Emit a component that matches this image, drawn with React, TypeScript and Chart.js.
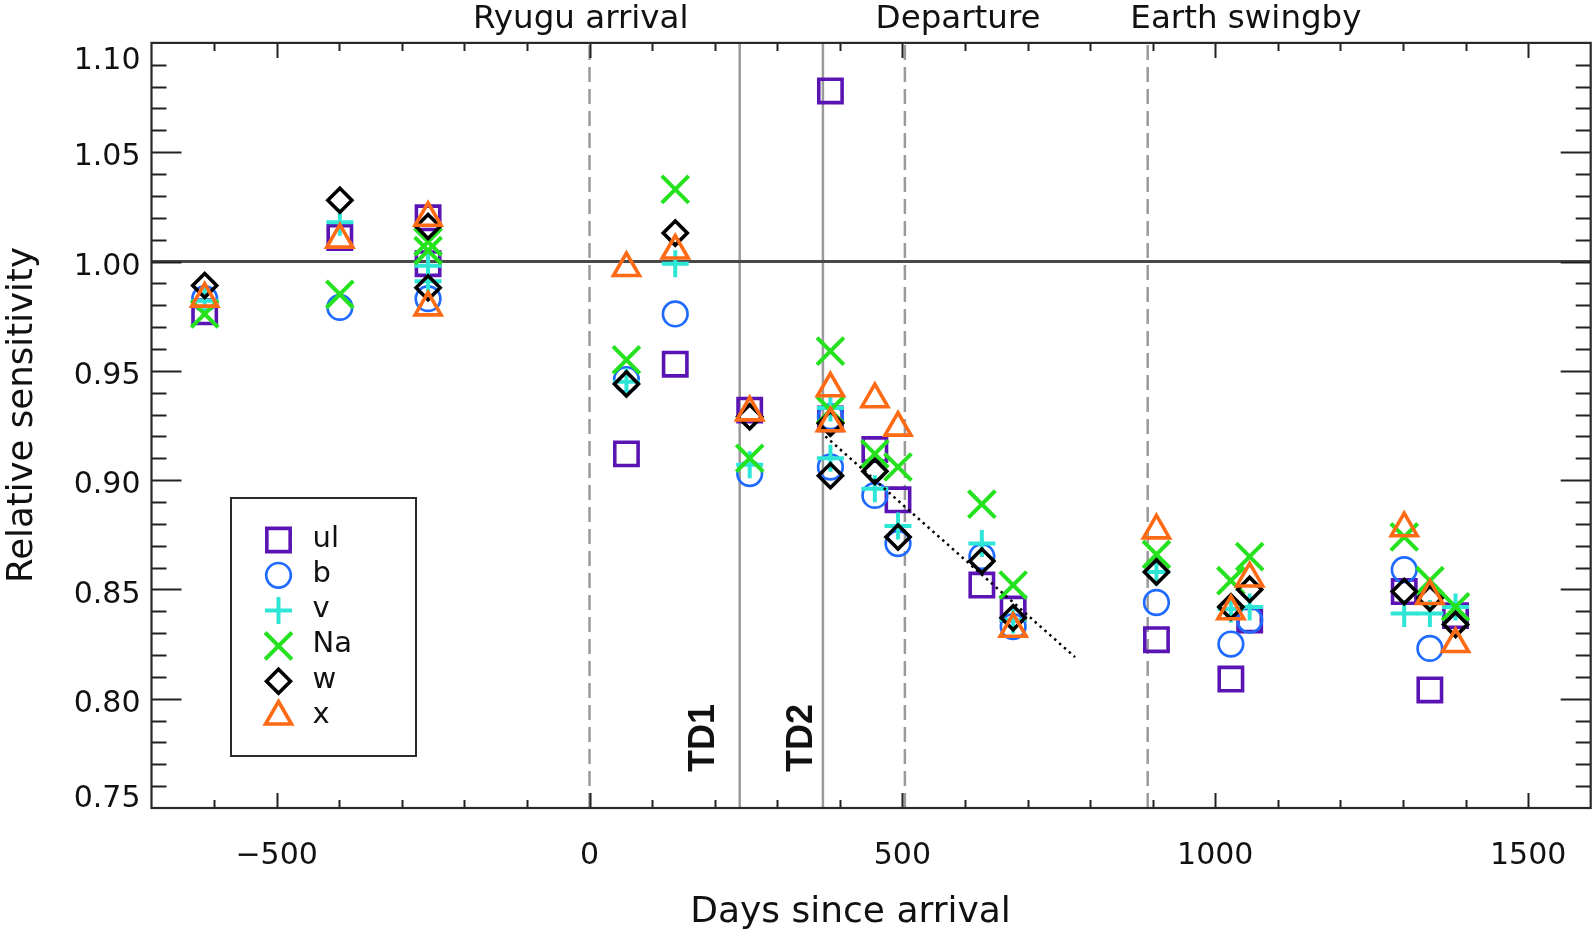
import React, { useEffect, useRef } from 'react';
import { Chart, registerables } from 'chart.js';
import { drawPoint } from 'chart.js/helpers';

Chart.register(...registerables);

// ---------- data ----------
const seriesNames = ['ul', 'b', 'v', 'Na', 'w', 'x'];
const obsDays = [-615, -399, -258, -258, 59, 137, 256, 385, 385, 456, 493, 627, 677, 906, 1025, 1055, 1302, 1343, 1384];
const ulValues = [0.977, 1.011, 1.02, 0.999, 0.912, 0.953, 0.932, 1.078, 0.928, 0.914, 0.891, 0.852, 0.841, 0.827, 0.809, 0.836, 0.849, 0.804, 0.838];
const bValues = [0.983, 0.979, null, 0.983, 0.946, 0.976, 0.903, 0.929, 0.906, 0.893, 0.871, 0.865, 0.833, 0.844, 0.825, 0.836, 0.859, 0.823, null];
const vValues = [0.982, 1.018, 0.998, 0.991, 0.945, 0.999, 0.907, 0.933, 0.91, 0.896, 0.879, 0.871, 0.836, 0.858, 0.841, 0.842, 0.839, 0.839, 0.842];
const naValues = [0.976, 0.985, 1.009, 1.005, 0.955, 1.033, 0.91, 0.959, 0.932, 0.912, 0.906, 0.889, 0.852, 0.866, 0.854, 0.865, 0.874, 0.854, 0.842];
const wValues = [0.989, 1.028, 1.016, 0.988, 0.944, 1.013, 0.929, 0.926, 0.902, 0.904, 0.874, 0.863, 0.837, 0.858, 0.842, 0.85, 0.849, 0.846, 0.834];
const xValues = [0.983, 1.01, 1.02, 0.979, 0.997, 1.005, 0.931, 0.942, 0.926, 0.937, 0.924, null, 0.832, 0.877, 0.84, 0.855, 0.878, 0.847, 0.825];

const trendDays = [377, 776];
const trendValues = [0.92, 0.819];

const unityDays = [-700, 1600];
const unityValues = [1.0, 1.0];

const eventDays = [0, 504, 892];
const eventLabels = ['Ryugu arrival', 'Departure', 'Earth swingby'];
const eventLabelDays = [-14, 589, 1049];

const touchdownDays = [240, 373];
const touchdownLabels = ['TD1', 'TD2'];
const touchdownLabelDays = [183, 340];
const touchdownLabelValue = 0.782;

const xRange = [-700, 1600];
const yRange = [0.75, 1.1];
const xTickValues = [-500, 0, 500, 1000, 1500];
const xTickLabels = ['\u2212500', '0', '500', '1000', '1500'];
const yTickValues = [0.75, 0.8, 0.85, 0.9, 0.95, 1.0, 1.05, 1.1];
const yTickLabels = ['0.75', '0.80', '0.85', '0.90', '0.95', '1.00', '1.05', '1.10'];

const xTitle = 'Days since arrival';
const yTitle = 'Relative sensitivity';

// ---------- styles ----------
const FONT = '"DejaVu Sans", "Liberation Sans", Arial, sans-serif';
const seriesStyles = [
  { style: 'rect', color: '#5a14b4', radius: 16.5, width: 3.6 },
  { style: 'circle', color: '#1f6bff', radius: 12.3, width: 2.7 },
  { style: 'cross', color: '#2ee6d6', radius: 13.5, width: 4 },
  { style: 'crossRot', color: '#25e21f', radius: 19, width: 4 },
  { style: 'rectRot', color: '#000000', radius: 12, width: 3.6 },
  { style: 'triangle', color: '#ff6a14', radius: 15, width: 3.6 },
];
const seriesValues = [ulValues, bValues, vValues, naValues, wValues, xValues];

function pts(days: number[], vals: (number | null)[]) {
  const out: { x: number; y: number }[] = [];
  days.forEach((d, i) => {
    const v = vals[i];
    if (v !== null && v !== undefined) out.push({ x: d, y: v });
  });
  return out;
}

const overlay = {
  id: 'overlay',
  afterDraw(chart: any) {
    const { ctx, chartArea: a, scales } = chart;
    const xs = scales.x;
    const ys = scales.y;
    ctx.save();
    // ticks (inward)
    ctx.strokeStyle = '#222';
    ctx.lineWidth = 2;
    ctx.beginPath();
    for (let d = xRange[0] + 100; d < xRange[1]; d += 100) {
      const px = Math.round(xs.getPixelForValue(d)) + 0.5;
      const len = d % 500 === 0 ? 15 : 8;
      ctx.moveTo(px, a.bottom);
      ctx.lineTo(px, a.bottom - len);
      ctx.moveTo(px, a.top);
      ctx.lineTo(px, a.top + len);
    }
    for (let k = 76; k < 110; k++) {
      const py = Math.round(ys.getPixelForValue(k / 100)) + 0.5;
      const len = k % 5 === 0 ? 30 : 15;
      ctx.moveTo(a.left, py);
      ctx.lineTo(a.left + len, py);
      ctx.moveTo(a.right, py);
      ctx.lineTo(a.right - len, py);
    }
    ctx.stroke();
    // frame
    ctx.strokeStyle = '#2a2a2a';
    ctx.lineWidth = 2.2;
    ctx.strokeRect(a.left, a.top, a.right - a.left, a.bottom - a.top);

    // legend
    const lx = 231, ly = 498, lw = 185, lh = 258;
    ctx.fillStyle = '#ffffff';
    ctx.fillRect(lx, ly, lw, lh);
    ctx.strokeStyle = '#2a2a2a';
    ctx.lineWidth = 2;
    ctx.strokeRect(lx, ly, lw, lh);
    seriesNames.forEach((name, i) => {
      const st = seriesStyles[i];
      const cy = 540 + i * 35.3;
      ctx.save();
      ctx.strokeStyle = st.color;
      ctx.fillStyle = 'rgba(0,0,0,0)';
      ctx.lineWidth = st.width;
      drawPoint(ctx, { pointStyle: st.style, radius: st.radius, borderWidth: st.width, rotation: 0 } as any, 278.5, cy);
      ctx.restore();
      ctx.fillStyle = '#111';
      ctx.font = `29px ${FONT}`;
      ctx.textAlign = 'left';
      ctx.textBaseline = 'middle';
      ctx.fillText(name, 312.5, cy - 1);
    });

    // event labels above plot
    ctx.fillStyle = '#111';
    ctx.font = `32.5px ${FONT}`;
    ctx.textAlign = 'center';
    ctx.textBaseline = 'alphabetic';
    eventLabels.forEach((t, i) => {
      ctx.fillText(t, xs.getPixelForValue(eventLabelDays[i]), 28.3);
    });

    // TD labels
    ctx.font = `bold 36px "Liberation Sans", Arial, sans-serif`;
    ctx.textBaseline = 'middle';
    touchdownLabels.forEach((t, i) => {
      ctx.save();
      ctx.translate(xs.getPixelForValue(touchdownLabelDays[i]), ys.getPixelForValue(touchdownLabelValue));
      ctx.rotate(-Math.PI / 2);
      ctx.fillText(t, 0, 0);
      ctx.restore();
    });

    // axis titles
    ctx.font = `36px ${FONT}`;
    ctx.textBaseline = 'alphabetic';
    ctx.textAlign = 'center';
    ctx.fillText(xTitle, 850.5, 921.7);
    ctx.save();
    ctx.font = `35.6px ${FONT}`;
    ctx.translate(32, 415);
    ctx.rotate(-Math.PI / 2);
    ctx.fillText(yTitle, 0, 0);
    ctx.restore();

    ctx.restore();
  },
};

function near(a: number, b: number) {
  return Math.abs(a - b) < 1e-6;
}

export default function App() {
  const ref = useRef<HTMLCanvasElement>(null);
  useEffect(() => {
    const datasets: any[] = [];
    // dotted trend on top
    datasets.push({
      label: 'trend',
      data: pts(trendDays, trendValues),
      showLine: true,
      borderColor: '#000',
      borderWidth: 2.5,
      borderDash: [2.5, 4],
      pointRadius: 0,
      order: 0,
    });
    seriesNames.forEach((name, i) => {
      const st = seriesStyles[i];
      datasets.push({
        label: name,
        data: pts(obsDays, seriesValues[i]),
        showLine: false,
        pointStyle: st.style,
        pointRadius: st.radius,
        pointHoverRadius: st.radius,
        pointBorderWidth: st.width,
        pointHoverBorderWidth: st.width,
        pointBorderColor: st.color,
        pointBackgroundColor: 'rgba(0,0,0,0)',
        borderColor: st.color,
        backgroundColor: 'rgba(0,0,0,0)',
        order: 6 - i,
      });
    });
    datasets.push({
      label: 'unity',
      data: pts(unityDays, unityValues),
      showLine: true,
      borderColor: '#484848',
      borderWidth: 2.8,
      pointRadius: 0,
      order: 7,
    });
    eventDays.forEach((d) => {
      datasets.push({
        label: 'event',
        data: pts([d, d], yRange),
        showLine: true,
        borderColor: '#9a9a9a',
        borderWidth: 2.5,
        borderDash: [15, 7],
        pointRadius: 0,
        order: 8,
      });
    });
    touchdownDays.forEach((d) => {
      datasets.push({
        label: 'td',
        data: pts([d, d], yRange),
        showLine: true,
        borderColor: '#9a9a9a',
        borderWidth: 2.5,
        pointRadius: 0,
        order: 8,
      });
    });

    const chart = new Chart(ref.current as HTMLCanvasElement, {
      type: 'scatter',
      data: { datasets },
      options: {
        responsive: false,
        animation: false,
        events: [],
        layout: { autoPadding: false, padding: { left: 0, right: 3.3, top: 42.9, bottom: 0 } },
        plugins: { legend: { display: false }, tooltip: { enabled: false }, title: { display: false } },
        scales: {
          x: {
            type: 'linear',
            min: xRange[0],
            max: xRange[1],
            grid: { display: false, drawTicks: false },
            border: { display: false },
            afterBuildTicks: (s: any) => {
              s.ticks = xTickValues.map((v) => ({ value: v }));
            },
            afterFit: (s: any) => {
              s.height = 126;
              s.paddingLeft = 0;
              s.paddingRight = 0;
            },
            ticks: {
              autoSkip: false,
              maxRotation: 0,
              padding: 30.5,
              color: '#111',
              font: { family: FONT, size: 30 },
              callback: (v: any) => {
                const i = xTickValues.findIndex((t) => near(t, Number(v)));
                return i >= 0 ? xTickLabels[i] : '';
              },
            },
          },
          y: {
            type: 'linear',
            min: yRange[0],
            max: yRange[1],
            grid: { display: false, drawTicks: false },
            border: { display: false },
            afterBuildTicks: (s: any) => {
              s.ticks = yTickValues.map((v) => ({ value: v }));
            },
            afterFit: (s: any) => {
              s.width = 151.5;
              s.paddingTop = 0;
              s.paddingBottom = 0;
            },
            ticks: {
              autoSkip: false,
              padding: 11,
              labelOffset: 5.5,
              color: '#111',
              font: (c: any) => {
                const v = c.tick ? c.tick.value : 0;
                let lh = 1.2;
                if (near(v, yRange[1])) lh = 26.2 / 30;
                if (near(v, yRange[0])) lh = 29 / 30;
                return { family: FONT, size: 30, lineHeight: lh };
              },
              callback: (v: any) => {
                const i = yTickValues.findIndex((t) => near(t, Number(v)));
                if (i < 0) return '';
                if (i === yTickValues.length - 1) return ['', yTickLabels[i]];
                if (i === 0) return [yTickLabels[i], ''];
                return yTickLabels[i];
              },
            },
          },
        },
      },
      plugins: [overlay],
    } as any);
    return () => chart.destroy();
  }, []);

  return (
    <div style={{ position: 'absolute', left: 0, top: 0, width: 1594, height: 934, background: '#ffffff' }}>
      <canvas ref={ref} width={1594} height={934} style={{ display: 'block', width: 1594, height: 934 }} />
    </div>
  );
}
